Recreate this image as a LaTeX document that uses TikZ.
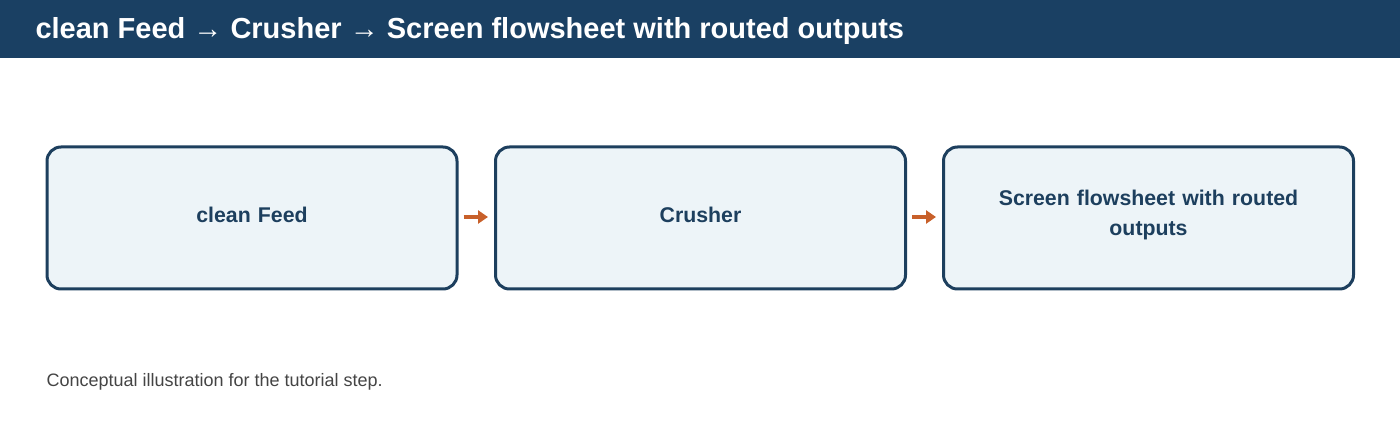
\documentclass[tikz,border=0pt]{standalone}
\usepackage{fontspec}
\setmainfont{Liberation Sans}
\usetikzlibrary{arrows.meta}
\definecolor{hdr}{HTML}{1A4063}
\definecolor{edge}{HTML}{1D3F5E}
\definecolor{boxfill}{HTML}{EDF4F8}
\definecolor{arr}{HTML}{C8602A}
\definecolor{cap}{HTML}{444444}
\begin{document}
\begin{tikzpicture}[x=1pt,y=-1pt,
  box/.style={draw=edge,fill=boxfill,line width=3pt,rounded corners=14pt,minimum width=410pt,minimum height=142pt},
  lbl/.style={align=center,text width=340pt,font=\fontsize{21.3}{30}\selectfont\bfseries,text=edge},
  flow/.style={draw=arr,line width=4pt,shorten >=6pt,-{Triangle[length=10pt,width=13pt]}}]
\useasboundingbox (0,0) rectangle (1400,430);
\fill[hdr] (0,0) rectangle (1400,58);
\node[anchor=west,text=white,font=\fontsize{29}{34}\selectfont\bfseries] (title) at (32,31) {clean Feed → Crusher → Screen flowsheet with routed outputs};
\node[box] (feed) at (252,218) {};
\node[box] (crusher) at (700.5,218) {};
\node[box] (screen) at (1148.5,218) {};
\node[lbl] (feedt) at (feed) [yshift=3pt] {clean Feed};
\node[lbl] (crushert) at (crusher) [yshift=3pt] {Crusher};
\node[lbl] (screent) at (screen) [yshift=3pt] {Screen flowsheet with routed\\outputs};
\draw[flow] (feed.east) ++(5,-1) coordinate (a1) -- (a1 -| crusher.west) coordinate (b1);
\draw[flow] (crusher.east) ++(5,-1) coordinate (a2) -- (a2 -| screen.west) coordinate (b2);
\node[anchor=west,text=cap,font=\fontsize{18}{21}\selectfont] (caption) at (43,382) {Conceptual illustration for the tutorial step.};
\end{tikzpicture}
\end{document}
